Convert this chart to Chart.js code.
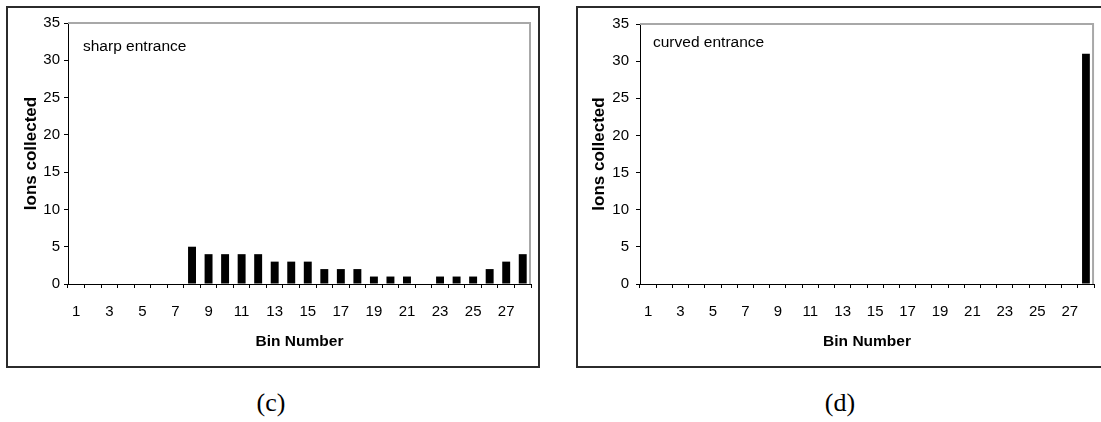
<!DOCTYPE html>
<html>
<head>
<meta charset="utf-8">
<script src="https://cdn.jsdelivr.net/npm/chart.js@4/dist/chart.umd.min.js"></script>
<style>
  html, body { margin: 0; padding: 0; background: #fff; }
  body { width: 1101px; height: 422px; overflow: hidden; position: relative; font-family: 'Liberation Sans', Arial, sans-serif; }
  .box { position: absolute; box-sizing: border-box; border: 2px solid #2b2b2b; background: #fff; }
  canvas { position: absolute; }
  .note { position: absolute; font-size: 15.5px; line-height: 18px; color: #000; white-space: nowrap; }
  .cap { position: absolute; font-family: 'Liberation Serif', 'Times New Roman', serif; font-size: 26px; line-height: 30px; color: #000; width: 80px; text-align: center; }
</style>
</head>
<body>
<div class="box" style="left:6px; top:6px; width:534px; height:362px;"></div>
<div class="box" style="left:576px; top:6px; width:540px; height:362px;"></div>
<canvas id="chartC" width="530" height="358" style="left:8px; top:8px;"></canvas>
<canvas id="chartD" width="523" height="358" style="left:578px; top:8px;"></canvas>
<div class="note" style="left:83px; top:37px;">sharp entrance</div>
<div class="note" style="left:653px; top:33px;">curved entrance</div>
<div class="cap" style="left:231px; top:388px;">(c)</div>
<div class="cap" style="left:800px; top:388px;">(d)</div>
<script>
// ---- data ----
const binLabels = ['1','2','3','4','5','6','7','8','9','10','11','12','13','14','15','16','17','18','19','20','21','22','23','24','25','26','27','28'];
const sharpCounts = [0,0,0,0,0,0,0,5,4,4,4,4,3,3,3,2,2,2,1,1,1,0,1,1,1,2,3,4];
const curvedCounts = [0,0,0,0,0,0,0,0,0,0,0,0,0,0,0,0,0,0,0,0,0,0,0,0,0,0,0,31];
const yMin = 0;
const yMax = 35;
const yStep = 5;
const xTitle = 'Bin Number';
const yTitle = 'Ions collected';

const FONT = "'Liberation Sans', Arial, sans-serif";

const framePlugin = {
  id: 'grayFrame',
  afterDatasetsDraw(chart) {
    const { ctx, chartArea: { left, top, right, bottom } } = chart;
    ctx.save();
    ctx.strokeStyle = '#a8a8a8';
    ctx.lineWidth = 2;
    ctx.beginPath();
    ctx.moveTo(left, top);
    ctx.lineTo(right - 1, top);
    ctx.lineTo(right - 1, bottom);
    ctx.stroke();
    ctx.restore();
  }
};

function makeChart(id, values, cfg) {
  return new Chart(document.getElementById(id), {
    type: 'bar',
    data: {
      labels: binLabels,
      datasets: [{
        data: values,
        backgroundColor: '#000',
        borderWidth: 0,
        barPercentage: 0.48,
        categoryPercentage: 1.0
      }]
    },
    options: {
      responsive: false,
      animation: false,
      devicePixelRatio: 1,
      layout: { padding: { top: 15, right: cfg.padRight, left: 0, bottom: 0 } },
      plugins: { legend: { display: false }, tooltip: { enabled: false } },
      scales: {
        x: {
          type: 'category',
          offset: true,
          grid: { display: true, offset: true, drawOnChartArea: false, drawTicks: true, tickLength: 4, color: '#000', lineWidth: 1 },
          border: { display: true, color: '#000', width: 1 },
          ticks: {
            autoSkip: false, maxRotation: 0, minRotation: 0, padding: 15, color: '#000',
            font: { family: FONT, size: 15 },
            callback: (v, i) => (i % 2 === 0 ? binLabels[i] : '')
          },
          title: { display: true, text: xTitle, color: '#000', font: { family: FONT, size: 15.5, weight: 'bold' }, padding: { top: 0, bottom: 15.2 } },
          afterFit: (s) => { s.height = 82; }
        },
        y: {
          min: yMin, max: yMax,
          grid: { display: true, drawOnChartArea: false, drawTicks: true, tickLength: 4, color: '#000', lineWidth: 1 },
          border: { display: true, color: '#000', width: 1 },
          ticks: { stepSize: yStep, padding: cfg.yTickPad, color: '#000', font: { family: FONT, size: 15 } },
          title: { display: true, text: yTitle, color: '#000', font: { family: FONT, size: 17, weight: 'bold' }, padding: { top: cfg.yTitlePad, bottom: 0 } },
          afterFit: (s) => { s.width = cfg.yWidth; }
        }
      }
    },
    plugins: [framePlugin]
  });
}

makeChart('chartC', sharpCounts, { padRight: 7, yWidth: 60, yTickPad: 4, yTitlePad: 12.8 });
makeChart('chartD', curvedCounts, { padRight: 3, yWidth: 62, yTickPad: 7, yTitlePad: 11.3 });
</script>
</body>
</html>
